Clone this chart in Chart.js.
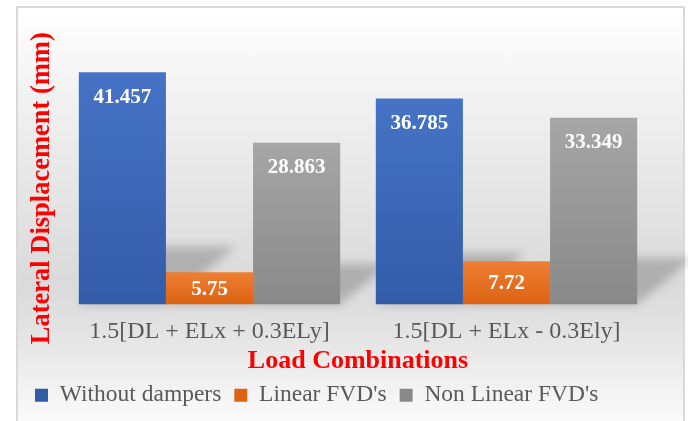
<!DOCTYPE html>
<html>
<head>
<meta charset="utf-8">
<script src="https://cdn.jsdelivr.net/npm/chart.js@4/dist/chart.umd.min.js"></script>
<style>
  html, body { margin: 0; padding: 0; background: #fff; }
  #wrap { position: relative; width: 688px; height: 421px; overflow: hidden; }
  #frame {
    position: absolute; left: 16px; top: 6px; width: 665px; height: 430px;
    border: 2px solid #d9d9d9;
    background: linear-gradient(to bottom, #ffffff 0%, #ececec 30%, #dadada 64%, #e3e3e3 75%, #ffffff 100%);
  }
  #chart { position: absolute; left: 0; top: 0; }
</style>
</head>
<body>
<div id="wrap">
  <div id="frame"></div>
  <canvas id="chart" width="688" height="421"></canvas>
</div>
<script>
const categories = ['1.5[DL + ELx + 0.3ELy]', '1.5[DL + ELx - 0.3Ely]'];
const seriesNames = ['Without dampers', "Linear FVD's", "Non Linear FVD's"];
const withoutDampers = [41.457, 36.785];
const linearFVD = [5.75, 7.72];
const nonLinearFVD = [28.863, 33.349];

const serif = "'Liberation Serif', 'Times New Roman', serif";
// top colour, bottom colour of each bar gradient
const palette = [
    ['#4673c6', '#335ca8'],
    ['#ee7f33', '#dc6212'],
    ['#a6a6a6', '#898989']
];

function barFill(i) {
    return function (context) {
        const chart = context.chart;
        if (context.type !== 'data' || !chart.chartArea) return palette[i][0];
        const y = chart.scales.y;
        const top = y.getPixelForValue(context.raw);
        const bottom = y.getPixelForValue(0);
        const g = chart.ctx.createLinearGradient(0, top, 0, bottom);
        g.addColorStop(0, palette[i][0]);
        g.addColorStop(1, palette[i][1]);
        return g;
    };
}

// soft perspective shadow behind each bar
const barShadow = {
    id: 'barShadow',
    beforeDatasetsDraw(chart) {
        const ctx = chart.ctx;
        ctx.save();
        ctx.filter = 'blur(5px)';
        ctx.fillStyle = 'rgba(0,0,0,0.2)';
        chart.data.datasets.forEach((ds, i) => {
            chart.getDatasetMeta(i).data.forEach(bar => {
                const h = bar.base - bar.y;
                const l = bar.x - bar.width / 2, r = bar.x + bar.width / 2;
                const rise = h * 0.25, dx = h * 0.3;
                ctx.beginPath();
                ctx.moveTo(l, bar.base);
                ctx.lineTo(r, bar.base);
                ctx.lineTo(r + dx, bar.base - rise);
                ctx.lineTo(l + dx, bar.base - rise);
                ctx.closePath();
                ctx.fill();
            });
        });
        ctx.restore();
    }
};

// value labels inside the top of each bar
const barLabels = {
    id: 'barLabels',
    afterDatasetsDraw(chart) {
        const ctx = chart.ctx;
        ctx.save();
        ctx.font = 'bold 21px ' + serif;
        ctx.fillStyle = '#ffffff';
        ctx.textAlign = 'center';
        ctx.textBaseline = 'middle';
        chart.data.datasets.forEach((ds, i) => {
            chart.getDatasetMeta(i).data.forEach((bar, j) => {
                const y = Math.min(bar.y + 25, (bar.y + bar.base) / 2 + 1);
                ctx.fillText(String(ds.data[j]), bar.x, y);
            });
        });
        ctx.restore();
    }
};

new Chart(document.getElementById('chart').getContext('2d'), {
    type: 'bar',
    data: {
        labels: categories,
        datasets: [
            { label: seriesNames[0], data: withoutDampers, backgroundColor: barFill(0) },
            { label: seriesNames[1], data: linearFVD, backgroundColor: barFill(1) },
            { label: seriesNames[2], data: nonLinearFVD, backgroundColor: barFill(2) }
        ]
    },
    options: {
        responsive: false,
        animation: false,
        devicePixelRatio: 1,
        categoryPercentage: 0.88,
        barPercentage: 1.0,
        layout: { padding: { left: 22, right: 33, top: 72, bottom: 4 } },
        plugins: {
            legend: {
                position: 'bottom',
                align: 'start',
                labels: {
                    boxWidth: 13,
                    boxHeight: 13,
                    padding: 13,
                    color: '#595959',
                    font: { family: serif, size: 23.5 }
                }
            },
            tooltip: { enabled: false }
        },
        scales: {
            x: {
                grid: { display: false, drawTicks: false },
                border: { display: false },
                ticks: { color: '#595959', font: { family: serif, size: 24 }, padding: 13 },
                title: {
                    display: true,
                    text: 'Load Combinations',
                    color: '#ff0000',
                    font: { family: serif, size: 26, weight: 'bold', lineHeight: 0.7 },
                    padding: 0
                },
                afterFit(s) { s.height = 66; }
            },
            y: {
                min: 0,
                max: 41.5,
                grid: { display: false, drawTicks: false },
                border: { display: false },
                ticks: { display: false },
                title: {
                    display: true,
                    text: 'Lateral Displacement (mm)',
                    color: '#ff0000',
                    font: { family: serif, size: 26.5, weight: 'bold' },
                    padding: 4
                },
                afterFit(s) { s.width = 39; }
            }
        }
    },
    plugins: [barShadow, barLabels]
});
</script>
</body>
</html>
